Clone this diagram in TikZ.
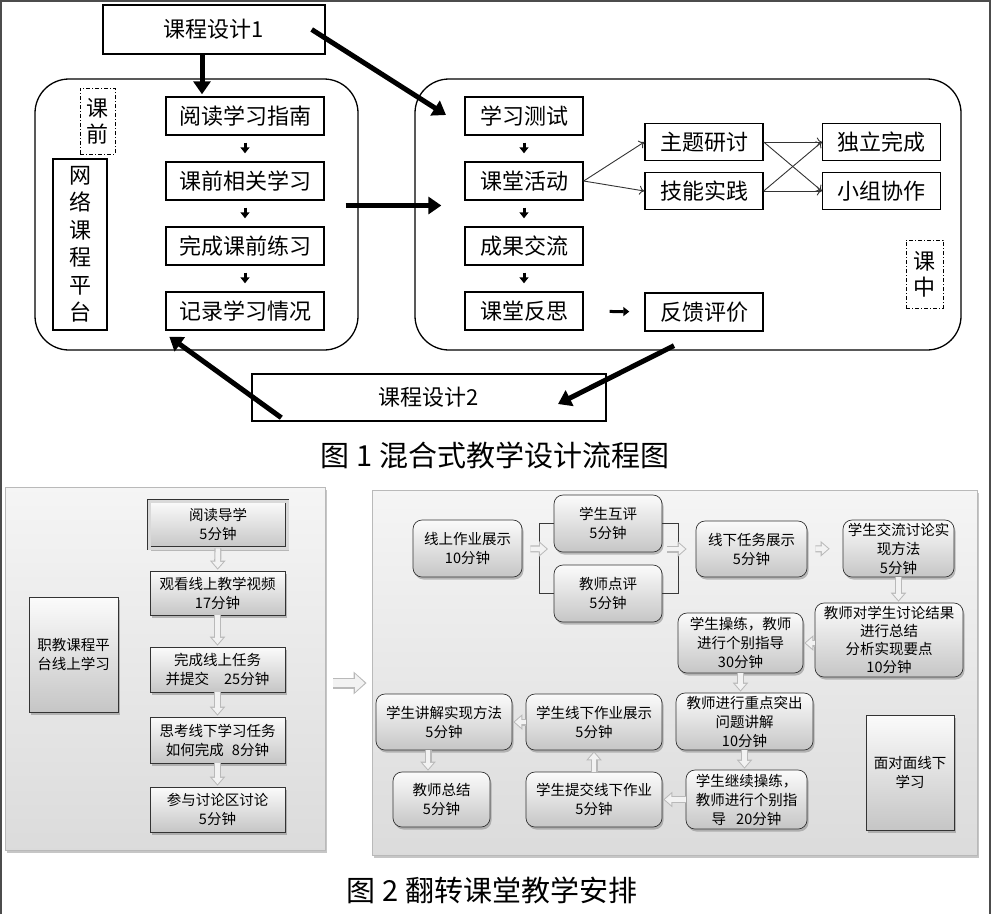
\documentclass[tikz,border=0pt]{standalone}
\usepackage{fontspec}
\setmainfont{Noto Sans CJK SC}
\usetikzlibrary{arrows.meta,shadows,calc}

\begin{document}
\begin{tikzpicture}[x=1pt, y=-1pt,
  box/.style={draw, line width=1.4pt, inner sep=0pt, font=\fontsize{22}{26}\selectfont},
  region/.style={draw, line width=1.3pt, rounded corners=34pt},
  tag/.style={draw, line width=1pt, dash pattern=on 4pt off 2pt on 1pt off 2pt, inner sep=0pt, align=center, font=\fontsize{22}{26}\selectfont},
  bigarrow/.style={line width=5pt, -{Triangle[length=13pt,width=17pt]}},
  smallarrow/.style={line width=3pt, -{Triangle[length=6pt,width=9pt]}, shorten <=7pt, shorten >=8pt},
  thinarrow/.style={line width=0.9pt, draw=black!80, -{To[length=5pt,width=9pt]}},
  panel/.style={draw=gray!55, line width=0.8pt, top color=gray!8, bottom color=gray!28, drop shadow={shadow xshift=2pt, shadow yshift=-3pt, opacity=0.45}},
  card/.style={draw=gray!40!black, line width=0.7pt, top color=gray!3, bottom color=gray!45, inner sep=0pt, align=center, font=\fontsize{14.5}{19}\selectfont, drop shadow={shadow xshift=1.5pt, shadow yshift=-2.5pt, opacity=0.5}},
  roundcard/.style={card, rounded corners=9pt},
  hollow/.style={preaction={draw=gray!55, line width=7pt, -{Triangle[length=9pt,width=15pt]}}, draw=gray!10, line width=4.6pt, -{Triangle[length=6.4pt,width=10.6pt,sep=1.5pt]}, shorten >=1pt},
  bighollow/.style={preaction={draw=gray!55, line width=11pt, -{Triangle[length=13pt,width=22pt]}}, draw=gray!10, line width=8.4pt, -{Triangle[length=9.6pt,width=17pt,sep=1.8pt]}},
]
\useasboundingbox (0,0) rectangle (992,914);
\draw[gray!60!black, line width=1.2pt] (1,914) -- (1,1) -- (990,1) -- (990,914);

% figure 1
\node[region, minimum width=323pt, minimum height=271pt] at (196.5,214.5) (pre) {};
\node[region, minimum width=546pt, minimum height=271pt] at (688,214.5) (mid) {};
\node[box, minimum width=222pt, minimum height=49pt] at (214,29.5) (d1) {课程设计1};
\node[box, minimum width=354pt, minimum height=47pt] at (429,397.5) (d2) {课程设计2};

\node[tag, minimum width=35pt, minimum height=66pt] at (97.5,121) (kq) {课\\前};
\node[box, align=center, minimum width=54pt, minimum height=171pt, font=\fontsize{22}{27.5}\selectfont] at (80,244.5) (wl) {网\\络\\课\\程\\平\\台};
\foreach \t [count=\i] in {阅读学习指南,课前相关学习,完成课前练习,记录学习情况}
{
     \node[box, minimum width=158pt, minimum height=38pt] at (245,51+65*\i) (p\i) {\t};
}
\foreach \t [count=\i] in {学习测试,课堂活动,成果交流,课堂反思}
{
     \node[box, minimum width=118pt, minimum height=38pt] at (524,51+65*\i) (c\i) {\t};
}
\node[box, minimum width=118pt, minimum height=38pt] at (704,312) (c5) {反馈评价};
\node[box, minimum width=118pt, minimum height=37pt] at (704,142) (c6) {主题研讨};
\node[box, minimum width=118pt, minimum height=37pt] at (704,191) (c7) {技能实践};
\node[box, minimum width=118pt, minimum height=37pt] at (881.5,142) (c8) {独立完成};
\node[box, minimum width=118pt, minimum height=37pt] at (881.5,191) (c9) {小组协作};
\node[tag, minimum width=37pt, minimum height=68pt] at (924.5,274) (kz) {课\\中};

\foreach \i/\j in {1/2,2/3,3/4}
{
     \draw[smallarrow] (p\i) -- (p\j);
     \draw[smallarrow] (c\i) -- (c\j);
}
\draw[smallarrow, shorten <=26pt, shorten >=15pt] (c4) -- (c5);

\draw[thinarrow] (c2.east) -- (c6.west);
\draw[thinarrow] (c2.east) -- (c7.west);
\draw[thinarrow] (c6.east) -- (c8.west);
\draw[thinarrow] (c6.east) -- (c9.west);
\draw[thinarrow] (c7.east) -- (c8.west);
\draw[thinarrow] (c7.east) -- (c9.west);

\coordinate (e1) at (446,115);
\coordinate (e2) at (558,404);
\draw[bigarrow, shorten >=2pt] ([xshift=-12pt]d1.south) -- ($(d1.south |- p1.north)+(-12,0)$);
\draw[bigarrow] ([xshift=-14pt]d1.east) -- (e1);
\draw[bigarrow] ([xshift=-13pt,yshift=9pt]pre.east) -- ([xshift=27pt,yshift=9pt]mid.west);
\draw[bigarrow] ([xshift=-14pt,yshift=5pt]mid.south) -- (e2);
\draw[bigarrow] ([xshift=30pt,yshift=4pt]d2.south west) -- ([xshift=4pt,yshift=-6pt]p4.south west);

\node[font=\fontsize{29}{34}\selectfont] at (495,455) (t1) {图 1 混合式教学设计流程图};

% figure 2
\node[panel, minimum width=320pt, minimum height=363pt] at (165,668.5) (lp) {};
\node[panel, minimum width=605pt, minimum height=365pt] at (674.5,672.5) (rp) {};

\node[card, minimum width=89pt, minimum height=115pt] at (73.5,654.5) (zj) {职教课程平\\台线上学习};
\node[card, double=gray!30, double distance=3pt, minimum width=138pt, minimum height=47pt] at (218,524.5) (o1) {阅读导学\\5分钟};
\node[card, minimum width=135pt, minimum height=44pt] at (217.5,593) (o2) {观看线上教学视频\\17分钟};
\node[card, minimum width=135pt, minimum height=45pt] at (217.5,669.5) (o3) {完成线上任务\\并提交\hspace{15pt}25分钟};
\node[card, minimum width=135pt, minimum height=46pt] at (217.5,740) (o4) {思考线下学习任务\\如何完成\hspace{8pt}8分钟};
\node[card, minimum width=135pt, minimum height=45pt] at (217.5,809.5) (o5) {参与讨论区讨论\\5分钟};
\foreach \i/\j in {1/2,2/3,3/4,4/5}
{
     \draw[hollow] (o\i) -- (o\j);
}
\draw[bighollow, shorten <=8pt, shorten >=5pt] ([yshift=-14.5pt]lp.east) -- ([yshift=-14.5pt]lp.east -| rp.west);

\node[roundcard, minimum width=109pt, minimum height=57pt] at (467.5,548.5) (f1) {线上作业展示\\10分钟};
\node[roundcard, minimum width=108pt, minimum height=57pt] at (608,523.5) (f2) {学生互评\\5分钟};
\node[roundcard, minimum width=108pt, minimum height=57pt] at (608,593.5) (f3) {教师点评\\5分钟};
\node[roundcard, minimum width=111pt, minimum height=56pt] at (751.5,549) (f4) {线下任务展示\\5分钟};
\node[roundcard, minimum width=111pt, minimum height=57pt] at (898.5,548.5) (f5) {学生交流讨论实\\现方法\\5分钟};
\node[roundcard, minimum width=148pt, minimum height=74pt, font=\fontsize{14.5}{18}\selectfont] at (889,640) (f6) {教师对学生讨论结果\\进行总结\\分析实现要点\\10分钟};
\node[roundcard, minimum width=125pt, minimum height=60pt] at (740.5,643) (f7) {学生操练，教师\\进行个别指导\\30分钟};
\node[roundcard, minimum width=137pt, minimum height=57pt] at (744.5,721.5) (f8) {教师进行重点突出\\问题讲解\\10分钟};
\node[roundcard, minimum width=121pt, minimum height=59pt] at (746.5,799.5) (f9) {学生继续操练，\\教师进行个别指\\导\hspace{10pt}20分钟};
\node[roundcard, minimum width=136pt, minimum height=55pt] at (594,799.5) (f10) {学生提交线下作业\\5分钟};
\node[roundcard, minimum width=136pt, minimum height=56pt] at (594,722) (f11) {学生线下作业展示\\5分钟};
\node[roundcard, minimum width=136pt, minimum height=56pt] at (444,722) (f12) {学生讲解实现方法\\5分钟};
\node[roundcard, minimum width=97pt, minimum height=55pt] at (441.5,799.5) (f13) {教师总结\\5分钟};
\node[card, minimum width=88pt, minimum height=115pt] at (910,772.5) (f14) {面对面线下\\学习};

\draw[gray!45!black, line width=0.7pt] (f2.west) -- ++(-14,0) |- (f3.west);
\draw[gray!45!black, line width=0.7pt] (f2.east) -- ++(16,0) |- (f3.east);
\coordinate (l2) at (549,549);
\coordinate (r2) at (667,549);
\draw[hollow, shorten <=8pt] (f1) -- (l2);
\draw[hollow, shorten >=9pt] (r2) -- (f4);
\draw[hollow, shorten <=8pt, shorten >=13pt] (f4) -- (f5);
\draw[hollow] (f5.south) -- (f5.south |- f6.north);
\draw[hollow] (f6.west |- f7.east) -- (f7.east);
\draw[hollow] (f7.south) -- (f7.south |- f8.north);
\draw[hollow] (f8.south) -- (f8.south |- f9.north);
\draw[hollow] (f9) -- (f10);
\draw[hollow] (f10) -- (f11);
\draw[hollow] (f11) -- (f12);
\draw[hollow] ($(f12.south)+(-16,0)$) -- ($(f12.south |- f13.north)+(-16,0)$);

\node[font=\fontsize{29}{34}\selectfont] at (492,890) (t2) {图 2 翻转课堂教学安排};
\end{tikzpicture}
\end{document}
